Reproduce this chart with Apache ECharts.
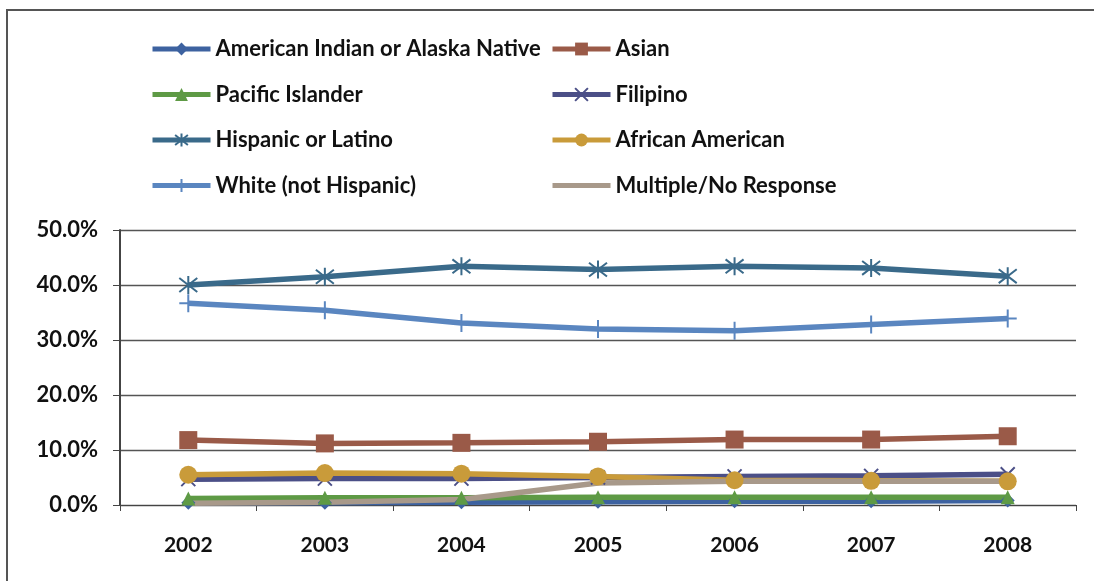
<!DOCTYPE html>
<html><head><meta charset="utf-8">
<script src="https://cdn.jsdelivr.net/npm/echarts@6/dist/echarts.min.js"></script>
<style>html,body{margin:0;padding:0;background:#fff}#c{width:1094px;height:581px}</style>
</head><body><div id="c"></div>
<script>
const years = ['2002','2003','2004','2005','2006','2007','2008'];
const americanIndian = [0.004, 0.004, 0.005, 0.006, 0.007, 0.007, 0.008];
const asian = [0.118, 0.112, 0.113, 0.115, 0.119, 0.119, 0.125];
const pacificIslander = [0.012, 0.013, 0.013, 0.014, 0.014, 0.014, 0.014];
const filipino = [0.047, 0.048, 0.048, 0.050, 0.052, 0.053, 0.056];
const hispanic = [0.400, 0.415, 0.434, 0.428, 0.434, 0.431, 0.416];
const africanAmerican = [0.055, 0.058, 0.057, 0.052, 0.045, 0.044, 0.043];
const white = [0.367, 0.354, 0.331, 0.320, 0.317, 0.328, 0.339];
const multiple = [0.003, 0.005, 0.010, 0.040, 0.043, 0.043, 0.043];
const yTicks = [0, 0.1, 0.2, 0.3, 0.4, 0.5];
const legendCol1 = ['American Indian or Alaska Native', 'Pacific Islander', 'Hispanic or Latino', 'White (not Hispanic)'];
const legendCol2 = ['Asian', 'Filipino', 'African American', 'Multiple/No Response'];

const FONT = 'Lato';
const xPath = 'path://M0,0L10,10M10,0L0,10';
const astPath = 'path://M0,0L10,10M10,0L0,10M5,-1.5L5,11.5';
const plusPath = 'path://M0,5L10,5M5,0L5,10';

function mk(name, data, color, symbol, size, stroke) {
  return {
    name, type: 'line', data, symbol: symbol, symbolSize: size,
    showSymbol: symbol !== 'none',
    lineStyle: { color, width: 5.5 },
    itemStyle: stroke ? { color: 'none', borderColor: color, borderWidth: 2 } : { color, borderColor: color, borderWidth: 0 },
    emphasis: { disabled: true },
    animation: false
  };
}
const series = [
  mk('American Indian or Alaska Native', americanIndian, '#3D62A0', 'diamond', 14),
  mk('Asian', asian, '#9A5A48', 'rect', 18),
  mk('Pacific Islander', pacificIslander, '#5E9A45', 'triangle', 14),
  mk('Filipino', filipino, '#4B4F87', xPath, 14, true),
  mk('Hispanic or Latino', hispanic, '#3A6A8A', astPath, 18, true),
  mk('African American', africanAmerican, '#C99B3A', 'circle', 18),
  mk('White (not Hispanic)', white, '#5A86C0', plusPath, 18, true),
  mk('Multiple/No Response', multiple, '#A8998A', 'none', 0)
];
const legText = { fontFamily: FONT, fontSize: 22, fontWeight: 'bold', color: '#111' };
const legends = [];
function legItem(n) {
  return n === 'Multiple/No Response' ? { name: n, itemStyle: { opacity: 0 } } : { name: n };
}
legendCol1.forEach((n, i) => legends.push({ id: 'l1_' + i, left: 145, top: 33 + i * 45.5, itemWidth: 58, itemHeight: 16, itemGap: 4, lineStyle: { width: 5 }, textStyle: legText, data: [legItem(n)] }));
legendCol2.forEach((n, i) => legends.push({ id: 'l2_' + i, left: 545, top: 33 + i * 45.5, itemWidth: 58, itemHeight: 16, itemGap: 4, lineStyle: { width: 5 }, textStyle: legText, data: [legItem(n)] }));

const chart = echarts.init(document.getElementById('c'), null, { renderer: 'canvas' });
chart.setOption({
  backgroundColor: '#fff',
  animation: false,
  graphic: [
    { type: 'polyline', shape: { points: [[7, 581], [7, 10], [1094, 10]] }, style: { stroke: '#555', lineWidth: 2, fill: 'none' } }
  ],
  legend: legends,
  grid: { left: 120, right: 18, top: 230, bottom: 76 },
  xAxis: {
    type: 'category', data: years, boundaryGap: true,
    axisLine: { lineStyle: { color: '#444', width: 1 } },
    axisTick: { show: true, length: 6, lineStyle: { color: '#444' } },
    axisLabel: { fontFamily: FONT, fontSize: 21, fontWeight: 'bold', color: '#111', margin: 30 }
  },
  yAxis: {
    type: 'value', min: yTicks[0], max: yTicks[yTicks.length - 1], interval: 0.1,
    axisLine: { show: true, lineStyle: { color: '#444', width: 2 } },
    axisTick: { show: true, length: 7, lineStyle: { color: '#444' } },
    splitLine: { lineStyle: { color: '#555', width: 1.3 } },
    axisLabel: { fontFamily: FONT, fontSize: 22, fontWeight: 'bold', color: '#111', margin: 22,
      formatter: v => (v * 100).toFixed(1) + '%' }
  },
  series
});
</script></body></html>
